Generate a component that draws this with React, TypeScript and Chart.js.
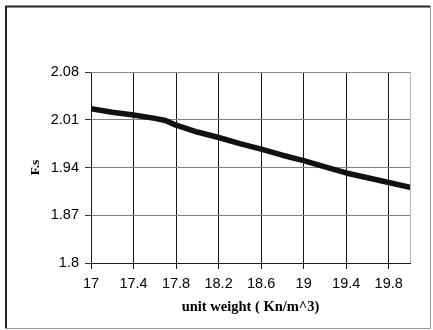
import React, { useEffect, useRef } from "react";
import { Chart, registerables } from "chart.js";

Chart.register(...registerables);

const unitWeight = [17, 17.2, 17.4, 17.6, 17.7, 17.8, 18.0, 18.2, 18.4, 18.6, 18.8, 19.0, 19.2, 19.4, 19.6, 19.8, 20.0];
const fsValues = [2.026, 2.021, 2.017, 2.012, 2.009, 2.002, 1.992, 1.984, 1.975, 1.967, 1.958, 1.950, 1.941, 1.932, 1.925, 1.918, 1.911];
const xTitle = "unit weight ( Kn/m^3)";
const yTitle = "F.s";

const frame = {
  id: "frame",
  beforeDraw(chart: any) {
    const ctx = chart.ctx;
    ctx.save();
    ctx.fillStyle = "#fff";
    ctx.fillRect(0, 0, chart.width, chart.height);
    ctx.restore();
  },
  afterDatasetsDraw(chart: any) {
    const ctx = chart.ctx;
    const a = chart.chartArea;
    ctx.save();
    ctx.lineWidth = 1;
    ctx.strokeStyle = "#888";
    ctx.beginPath();
    ctx.moveTo(a.left, a.top + 0.5);
    ctx.lineTo(a.right, a.top + 0.5);
    ctx.stroke();
    ctx.strokeStyle = "#b8b8b8";
    ctx.beginPath();
    ctx.moveTo(a.right + 0.5, a.top);
    ctx.lineTo(a.right + 0.5, a.bottom);
    ctx.stroke();
    ctx.strokeStyle = "#222";
    ctx.lineWidth = 2;
    ctx.beginPath();
    ctx.moveTo(6, 329);
    ctx.lineTo(6, 6.5);
    ctx.lineTo(430, 6.5);
    ctx.stroke();
    ctx.strokeStyle = "#999";
    ctx.lineWidth = 1;
    ctx.beginPath();
    ctx.moveTo(430.5, 6);
    ctx.lineTo(430.5, 328.5);
    ctx.lineTo(5, 328.5);
    ctx.stroke();
    ctx.restore();
  },
};

export default function App() {
  const ref = useRef<HTMLCanvasElement>(null);
  useEffect(() => {
    const chart = new Chart(ref.current!, {
      type: "line",
      data: {
        datasets: [
          {
            data: unitWeight.map((x, i) => ({ x, y: fsValues[i] })),
            borderColor: "#111",
            backgroundColor: "#111",
            borderWidth: 5.5,
            borderCapStyle: "round",
            borderJoinStyle: "round",
            pointRadius: 0,
            tension: 0,
          },
        ],
      },
      options: {
        responsive: false,
        animation: false,
        plugins: { legend: { display: false }, tooltip: { enabled: false } },
        layout: { padding: { left: 0, right: 23, top: 72, bottom: 0 } },
        scales: {
          x: {
            type: "linear",
            min: 17,
            max: 20,
            afterBuildTicks: (s: any) => {
              s.ticks = [17, 17.4, 17.8, 18.2, 18.6, 19, 19.4, 19.8].map((v) => ({ value: v }));
            },
            afterFit: (s: any) => {
              s.height = 67;
            },
            ticks: {
              autoSkip: false,
              maxRotation: 0,
              padding: 6,
              color: "#000",
              font: { family: "'Liberation Sans', Arial, sans-serif", size: 14.5 },
              callback: (v: any) => String(Number(Number(v).toFixed(1))),
            },
            grid: { color: "#1a1a1a", tickLength: 6, tickColor: "#1a1a1a", lineWidth: 1 },
            border: { color: "#1a1a1a", width: 1 },
            title: {
              display: true,
              text: xTitle,
              color: "#000",
              font: { family: "'Liberation Serif', 'Times New Roman', serif", size: 14.5, weight: "bold" },
              padding: { top: 0, bottom: 14 },
            },
          },
          y: {
            type: "linear",
            min: 1.8,
            max: 2.08,
            afterBuildTicks: (s: any) => {
              s.ticks = [1.8, 1.87, 1.94, 2.01, 2.08].map((v) => ({ value: v }));
            },
            afterFit: (s: any) => {
              s.width = 91;
            },
            ticks: {
              padding: 6,
              color: "#000",
              font: { family: "'Liberation Sans', Arial, sans-serif", size: 14.5 },
              callback: (v: any) => String(Number(Number(v).toFixed(2))),
            },
            grid: { color: "#808080", tickLength: 6, tickColor: "#333", lineWidth: 1 },
            border: { color: "#1a1a1a", width: 1 },
            title: {
              display: true,
              text: yTitle,
              color: "#000",
              font: { family: "'Liberation Serif', 'Times New Roman', serif", size: 13.5, weight: "bold" },
              padding: { top: 27, bottom: 0 },
            },
          },
        },
      },
      plugins: [frame],
    });
    return () => chart.destroy();
  }, []);
  return (
    <div style={{ position: "absolute", left: 0, top: 0, width: 433, height: 330 }}>
      <canvas ref={ref} width={433} height={330} style={{ width: 433, height: 330, display: "block" }} />
    </div>
  );
}
